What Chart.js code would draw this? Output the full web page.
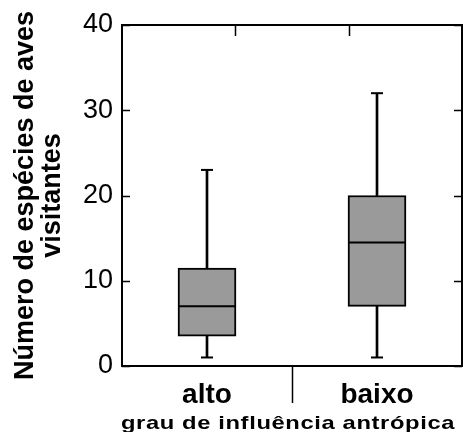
<!DOCTYPE html>
<html>
<head>
<meta charset="utf-8">
<script src="https://cdn.jsdelivr.net/npm/chart.js@4/dist/chart.umd.min.js"></script>
<style>
html,body{margin:0;padding:0;background:#fff;}
#wrap{width:463px;height:432px;position:relative;}
</style>
</head>
<body>
<div id="wrap"><canvas id="c" width="463" height="432"></canvas></div>
<script>
// ---- data ----
const categories = ['alto', 'baixo'];
const mins    = [1, 1];
const q1s     = [3.5, 7];
const medians = [7, 14.5];
const q3s     = [11.5, 20];
const maxs    = [23, 32];
const yTicks  = [0, 10, 20, 30, 40];
const yTitle  = ['Número de espécies de aves', 'visitantes'];
const xTitle  = 'grau de influência antrópica';

const FONT = "'Liberation Sans', Arial, sans-serif";

const framePlugin = {
  id: 'frame',
  afterDraw(chart) {
    const ctx = chart.ctx;
    const a = chart.chartArea;
    const ys = chart.scales.y;
    const xs = chart.scales.x;
    ctx.save();
    ctx.strokeStyle = '#000';
    ctx.lineWidth = 2;
    ctx.strokeRect(a.left, a.top, a.right - a.left, a.bottom - a.top);
    ctx.lineWidth = 1.5;
    ctx.beginPath();
    yTicks.forEach(v => {
      const py = Math.round(ys.getPixelForValue(v)) + 0.5;
      ctx.moveTo(a.left, py); ctx.lineTo(a.left + 8, py);
      ctx.moveTo(a.right, py); ctx.lineTo(a.right - 8, py);
    });
    const w = a.right - a.left;
    [1, 2].forEach(k => {
      const px = Math.round(a.left + w * k / 3) + 0.5;
      ctx.moveTo(px, a.top); ctx.lineTo(px, a.top + 11);
    });
    for (let i = 0; i < categories.length - 1; i++) {
      const px = Math.round((xs.getPixelForValue(i) + xs.getPixelForValue(i + 1)) / 2) + 0.5;
      ctx.moveTo(px, a.bottom); ctx.lineTo(px, a.bottom + 37);
    }
    ctx.stroke();
    // x axis title (wide, letter-spaced)
    ctx.fillStyle = '#000';
    ctx.font = 'bold 19px ' + FONT;
    ctx.letterSpacing = '0.5px';
    ctx.textAlign = 'center';
    ctx.textBaseline = 'alphabetic';
    ctx.translate((a.left + a.right) / 2 - 4, 429);
    ctx.scale(1.25, 1);
    ctx.fillText(xTitle, 0, 0);
    ctx.restore();
  }
};

const lowWhisk = categories.map((c, i) => [mins[i], q1s[i]]);
const highWhisk = categories.map((c, i) => [q3s[i], maxs[i]]);
const boxes = categories.map((c, i) => [q1s[i], q3s[i]]);

new Chart(document.getElementById('c'), {
  type: 'bar',
  data: {
    labels: categories,
    datasets: [
      { type: 'bar', data: lowWhisk, backgroundColor: '#000', barThickness: 2, grouped: false, order: 3 },
      { type: 'bar', data: highWhisk, backgroundColor: '#000', barThickness: 2, grouped: false, order: 3 },
      { type: 'bar', data: boxes, backgroundColor: '#9a9a9a', borderColor: '#000', borderWidth: 2,
        borderSkipped: false, barThickness: 58, grouped: false, order: 2 },
      { type: 'line', data: medians, showLine: false, pointStyle: 'line', pointRadius: 29,
        borderColor: '#000', pointBorderWidth: 2, order: 1 },
      { type: 'line', data: mins, showLine: false, pointStyle: 'line', pointRadius: 6,
        borderColor: '#000', pointBorderWidth: 2, order: 1 },
      { type: 'line', data: maxs, showLine: false, pointStyle: 'line', pointRadius: 6,
        borderColor: '#000', pointBorderWidth: 2, order: 1 }
    ]
  },
  options: {
    responsive: false,
    animation: false,
    events: [],
    layout: { autoPadding: false, padding: { top: 25, right: 1, left: 0, bottom: 0 } },
    plugins: { legend: { display: false }, tooltip: { enabled: false } },
    scales: {
      x: {
        offset: true,
        grid: { display: false, drawTicks: false },
        border: { display: false },
        ticks: { color: '#000', font: { family: FONT, size: 28, weight: 'bold' }, padding: 12 },
        afterFit(s) { s.height = 66; s.paddingLeft = 0; s.paddingRight = 0; }
      },
      y: {
        min: 0, max: 40,
        grid: { display: false, drawTicks: false },
        border: { display: false },
        ticks: { stepSize: 10, color: '#000', font: { family: FONT, size: 27 }, padding: 9 },
        title: { display: true, text: yTitle, color: '#000',
                 font: { family: FONT, size: 27, weight: 'bold', lineHeight: 1.0 },
                 padding: { top: 12, bottom: 0 } },
        afterFit(s) { s.width = 122; s.paddingTop = 0; s.paddingBottom = 0; }
      }
    }
  },
  plugins: [framePlugin]
});
</script>
</body>
</html>
